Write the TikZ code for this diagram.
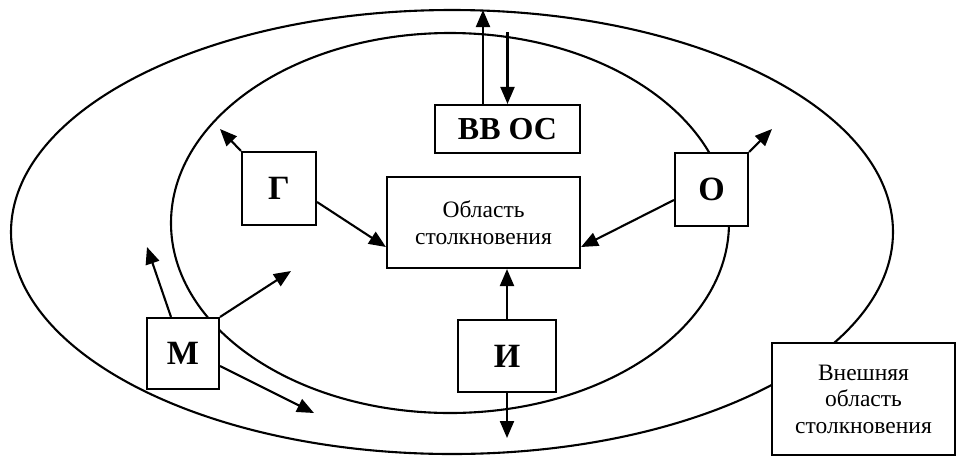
\documentclass[tikz,border=0pt]{standalone}
\usepackage{fontspec}
\setmainfont{Liberation Serif}
\usepackage{tikz}
\usetikzlibrary{calc,arrows.meta}

\begin{document}
\begin{tikzpicture}[x=1pt,y=-1pt,line width=2.1pt,
    arr/.style={-{Triangle[length=17pt,width=14pt]}},
    box/.style={draw,fill=white,inner sep=0pt,align=center},
    letter/.style={box,font=\fontsize{34}{36}\selectfont\bfseries},
    plain/.style={box,font=\fontsize{23.5}{26.5}\selectfont}]
          \useasboundingbox (0,0) rectangle (964,459);
          \draw (452,232) ellipse (441 and 222);
          \draw (450,223) ellipse (279 and 190);
          \draw node[box,minimum width=145pt,minimum %
            height=48pt,font=\fontsize{32}{34}\selectfont\bfseries] %
          (vvos) at (507.5,129) {ВВ ОС};
          \draw node[plain,minimum width=193pt,minimum %
            height=91pt] (obl) at (483.5,222.5) %
          {Область\\столкновения};
          \draw node[letter,minimum width=74pt,minimum %
            height=73pt] (G) at (279,188.5) {Г};
          \draw node[letter,minimum width=73pt,minimum %
            height=73pt] (O) at (711.5,189.5) {О};
          \draw node[letter,minimum width=98pt,minimum %
            height=72pt] (I) at (507,356) {И};
          \draw node[letter,minimum width=72pt,minimum %
            height=71pt] (M) at (183,353.5) {М};
          \draw node[plain,minimum width=183pt,minimum %
            height=112pt] (vn) at (863.5,399) %
          {Внешняя\\область\\столкновения};
          % free ends of the arrows
          \coordinate (vvosUp) at (483,10);
          \coordinate (vvosIn) at (507.5,32);
          \coordinate (Gout) at (220,129);
          \coordinate (Oout) at (772,129);
          \coordinate (Iout) at (507,438);
          \coordinate (Mout1) at (147,247);
          \coordinate (Mout2) at (291,271);
          \coordinate (Mout3) at (314,413);
          \draw[arr] ($(vvos.north)+(-24.5,0)$) -- (vvosUp);
          \draw[arr] (vvosIn) -- (vvos.north);
          \draw[arr] (G.north west) -- (Gout);
          \draw[arr] ($(G.east)+(0,13.5)$) -- ($(obl.west)+(0,24.5)$);
          \draw[arr] (O.north east) -- (Oout);
          \draw[arr] ($(O.west)+(0,10.5)$) -- ($(obl.east)+(0,24.5)$);
          \draw[arr] (I.north) -- (I.north |- obl.south);
          \draw[arr] (I.south) -- (Iout);
          \draw[arr] ($(M.north)+(-12,0)$) -- (Mout1);
          \draw[arr] (M.north east) -- (Mout2);
          \draw[arr] ($(M.east)+(0,12.5)$) -- (Mout3);
        \end{tikzpicture}
\end{document}
